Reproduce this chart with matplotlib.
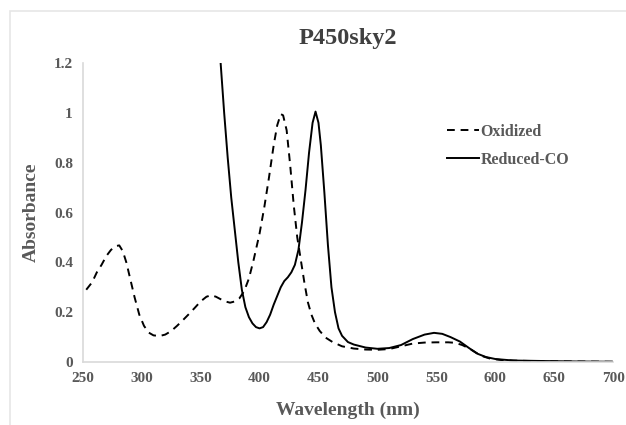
import matplotlib
matplotlib.use('Agg')
import matplotlib.pyplot as plt
from matplotlib.patches import Rectangle

# Oxidized spectrum (dashed)
ox_wl = [253, 258, 262, 266, 270, 274, 278, 281, 284, 287, 290, 294, 298, 302,
         306, 310, 315, 320, 325, 330, 335, 340, 345, 350, 355, 359, 363, 367,
         371, 375, 379, 383, 387, 391, 395, 400, 404, 408, 412, 415, 418, 420,
         423, 426, 429, 432, 435, 438, 441, 444, 447, 451, 456, 462, 470, 480,
         490, 500, 510, 520, 530, 540, 550, 560, 566, 572, 578, 584, 590, 596,
         605, 620, 640, 670, 700]
ox_abs = [0.29, 0.32, 0.36, 0.39, 0.425, 0.45, 0.465, 0.468, 0.445, 0.40, 0.34,
          0.26, 0.19, 0.145, 0.118, 0.107, 0.104, 0.110, 0.124, 0.145, 0.168,
          0.192, 0.217, 0.243, 0.262, 0.268, 0.262, 0.252, 0.243, 0.238, 0.243,
          0.256, 0.285, 0.335, 0.41, 0.515, 0.62, 0.74, 0.87, 0.95, 0.995, 0.99,
          0.93, 0.79, 0.63, 0.5, 0.41, 0.32, 0.24, 0.19, 0.155, 0.125, 0.098,
          0.08, 0.063, 0.054, 0.05, 0.049, 0.052, 0.063, 0.074, 0.078, 0.079,
          0.079, 0.077, 0.068, 0.054, 0.036, 0.022, 0.013, 0.008, 0.005, 0.003,
          0.002, 0.001]

# Reduced-CO spectrum (solid)
red_wl = [367, 370, 373, 376, 379, 382, 385, 388, 391, 394, 397, 400, 403, 406,
          409, 412, 415, 418, 421, 424, 427, 430, 433, 436, 439, 442, 445, 447.5,
          450, 452, 455, 458, 461, 464, 467, 470, 475, 480, 490, 500, 510, 520,
          530, 540, 548, 555, 562, 570, 578, 585, 592, 600, 615, 640, 670, 700]
red_abs = [1.2, 1.0, 0.82, 0.66, 0.53, 0.40, 0.29, 0.22, 0.18, 0.155, 0.14,
           0.135, 0.14, 0.16, 0.19, 0.23, 0.265, 0.30, 0.325, 0.34, 0.36, 0.39,
           0.45, 0.56, 0.69, 0.84, 0.96, 1.005, 0.96, 0.87, 0.68, 0.47, 0.30,
           0.20, 0.135, 0.105, 0.08, 0.07, 0.058, 0.053, 0.056, 0.068, 0.092,
           0.11, 0.117, 0.113, 0.10, 0.082, 0.055, 0.033, 0.02, 0.012, 0.006,
           0.004, 0.002, 0.001]

x_ticks = [250, 300, 350, 400, 450, 500, 550, 600, 650, 700]
y_ticks = [0, 0.2, 0.4, 0.6, 0.8, 1, 1.2]
y_labels = ['0', '0.2', '0.4', '0.6', '0.8', '1', '1.2']

plt.rcParams['font.family'] = ['Liberation Serif', 'DejaVu Serif']
plt.rcParams['font.weight'] = 'bold'
plt.rcParams['axes.labelweight'] = 'bold'
plt.rcParams['axes.titleweight'] = 'bold'
text_col = '#595959'
grid_col = '#d9d9d9'

fig = plt.figure(figsize=(6.26, 4.25), dpi=100)
fig.patches.append(Rectangle((10 / 626, -0.1), 1.2, 1 - 11 / 425 + 0.1,
                             transform=fig.transFigure, fill=False,
                             edgecolor='#e6e6e6', linewidth=1.2))
ax = fig.add_axes([82.7 / 626, 63 / 425, 530.5 / 626, 299 / 425])

ax.plot(ox_wl, ox_abs, color='black', linewidth=1.4, linestyle=(0, (4, 3)),
        label='Oxidized')
ax.plot(red_wl, red_abs, color='black', linewidth=1.4, label='Reduced-CO')

ax.set_xlim(250, 700)
ax.set_ylim(0, 1.2)
ax.set_xticks(x_ticks)
ax.set_yticks(y_ticks)
ax.set_yticklabels(y_labels)
ax.tick_params(length=0, labelsize=11, labelcolor=text_col, pad=7)
for s in ['top', 'right']:
    ax.spines[s].set_visible(False)
for s in ['left', 'bottom']:
    ax.spines[s].set_color(grid_col)
    ax.spines[s].set_linewidth(1.2)

ax.set_xlabel('Wavelength (nm)', fontsize=14, color=text_col, labelpad=12)
ax.set_ylabel('Absorbance', fontsize=14, color=text_col, labelpad=10)
ax.set_title('P450sky2', fontsize=17.5, color='#404040', pad=14)

leg = ax.legend(loc='upper left', bbox_to_anchor=(0.66, 0.845), frameon=False,
                fontsize=11.5, handlelength=2.0, handletextpad=0.1,
                labelspacing=0.75)
for t in leg.get_texts():
    t.set_color(text_col)

fig.savefig('out.png', dpi=100)
